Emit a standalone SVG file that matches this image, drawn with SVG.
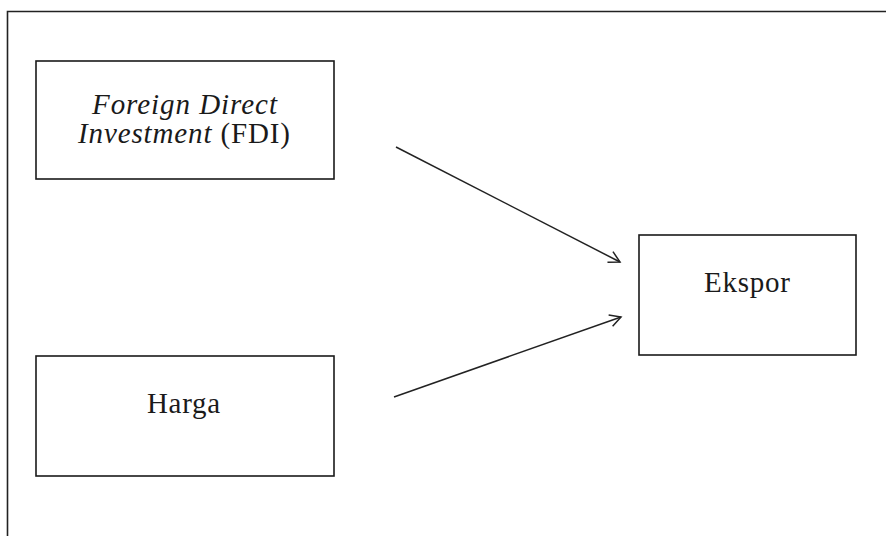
<svg xmlns="http://www.w3.org/2000/svg" width="886" height="536" viewBox="0 0 886 536">
<style>
.box{fill:#fff;stroke:#1a1a1a;stroke-width:1.6}
.t{font-family:"Liberation Serif","Times New Roman",serif;font-size:29px;fill:#1a1a1a;text-anchor:middle}
.c{stroke:#222;stroke-width:1.5;fill:none}
</style>
<defs>
<marker id="ah" markerWidth="14" markerHeight="14" refX="12" refY="7" orient="auto" markerUnits="userSpaceOnUse">
<path d="M1,1 L12,7 L1,13" fill="none" stroke="#222" stroke-width="1.5"/>
</marker>
</defs>
<rect width="886" height="536" fill="#fff"/>
<path d="M7.5,536 V11.5 H886" fill="none" stroke="#222" stroke-width="1.6"/>
<g id="fdi">
<rect class="box" x="36" y="61" width="298" height="118"/>
<text class="t" x="184.5" y="114" font-style="italic" textLength="185" lengthAdjust="spacing">Foreign Direct</text>
<text class="t" x="184" y="143" textLength="212" lengthAdjust="spacing"><tspan font-style="italic">Investment</tspan> (FDI)</text>
</g>
<g id="harga">
<rect class="box" x="36" y="356" width="298" height="120"/>
<text class="t" x="183.5" y="413" textLength="73" lengthAdjust="spacing">Harga</text>
</g>
<g id="ekspor">
<rect class="box" x="639" y="235" width="217" height="120"/>
<text class="t" x="747" y="292" textLength="86" lengthAdjust="spacing">Ekspor</text>
</g>
<g id="connectors">
<line class="c" x1="396" y1="147" x2="620" y2="262" marker-end="url(#ah)"/>
<line class="c" x1="394" y1="397" x2="621" y2="317" marker-end="url(#ah)"/>
</g>
</svg>
